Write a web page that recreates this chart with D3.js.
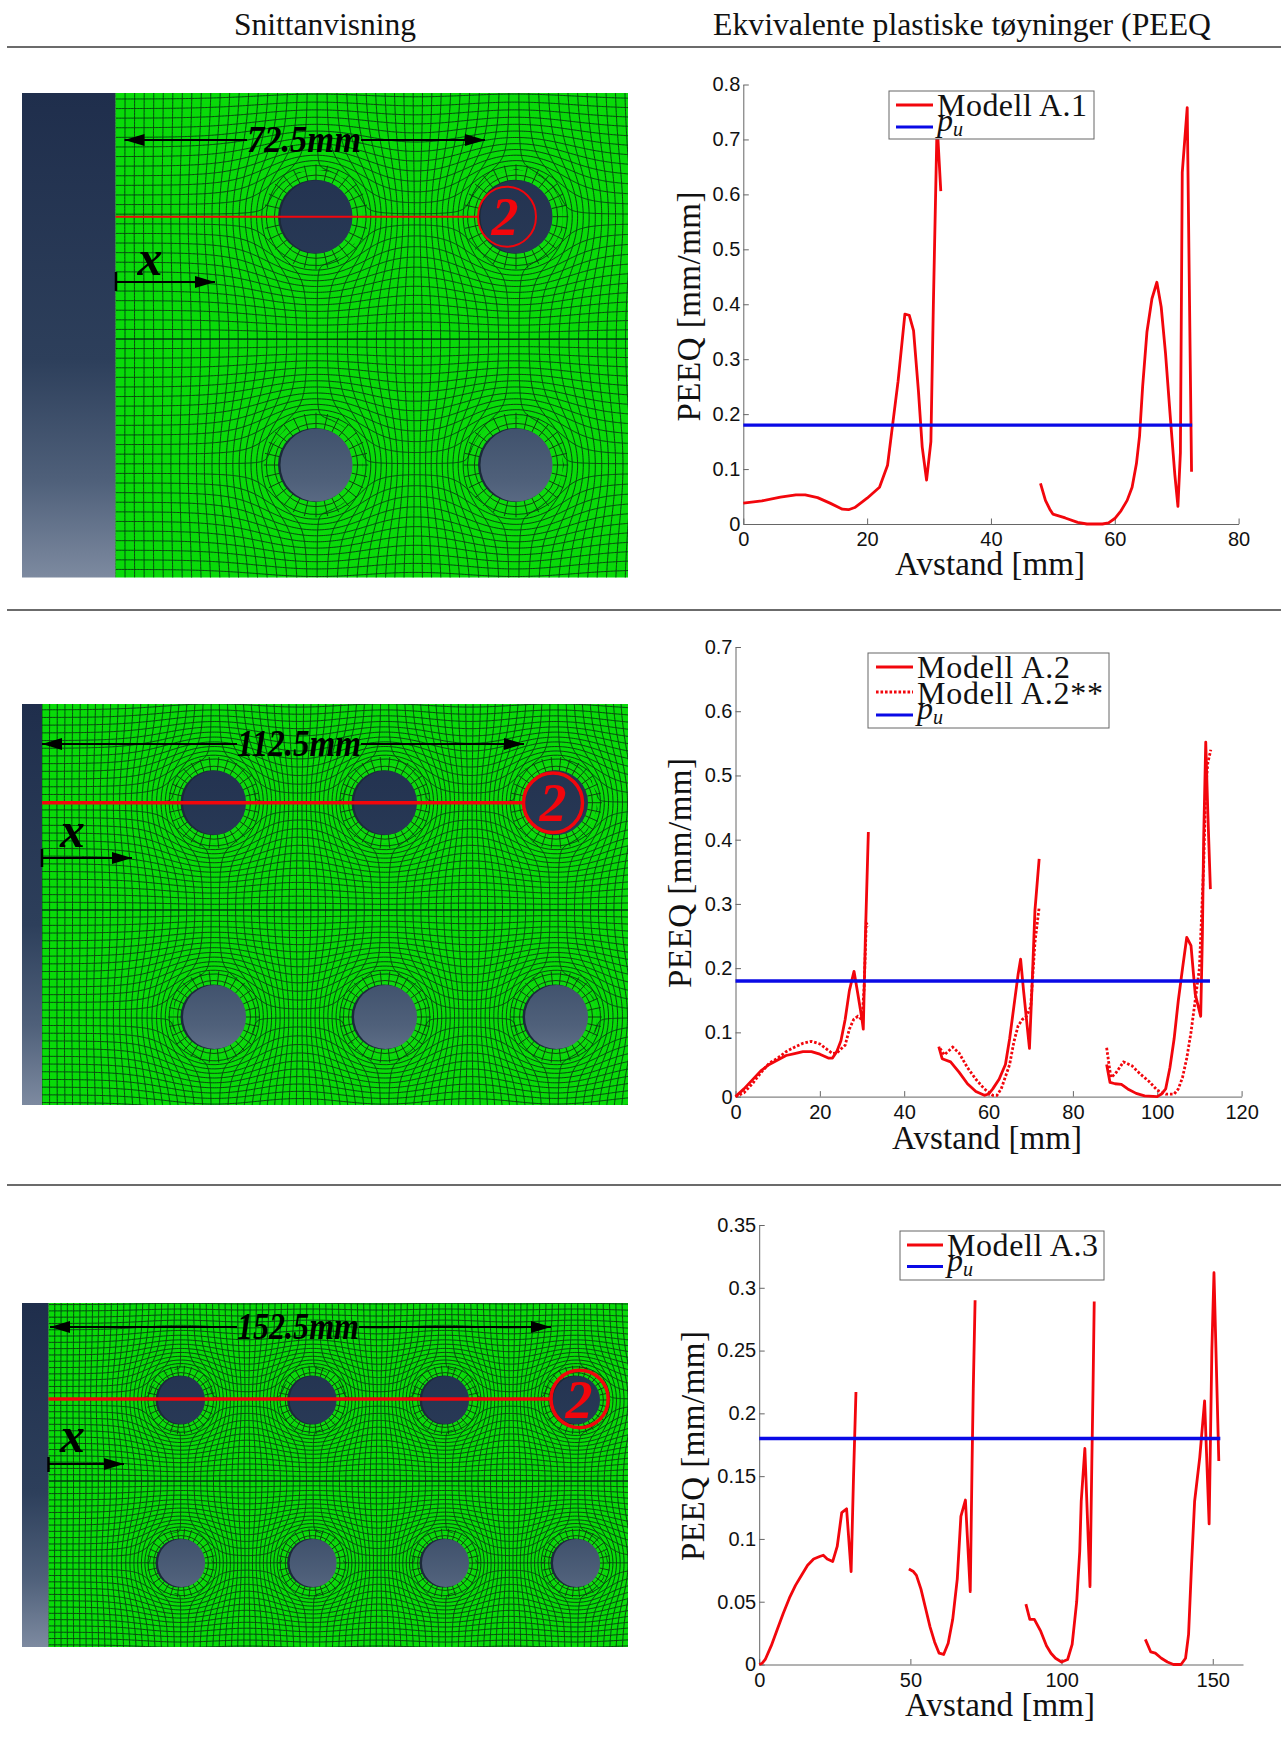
<!DOCTYPE html>
<html><head><meta charset="utf-8">
<script src="https://cdnjs.cloudflare.com/ajax/libs/d3/7.8.5/d3.min.js"></script>
<style>html,body{margin:0;padding:0;background:#fff}svg{display:block}</style>
</head><body><div id="c"></div>
<script>
// ---------- data ----------
const columnTitles = ["Snittanvisning", "Ekvivalente plastiske tøyninger (PEEQ"];
const pu = 0.18;

const a1Seg1 = [[0,.038],[3,.042],[6,.049],[8.5,.053],[10,.053],[12,.048],[14,.038],[16,.027],[17,.026],[18,.03],[20,.047],[22,.067],[23.3,.107],[24,.17],[25,.26],[26.1,.382],[26.8,.38],[27.5,.352],[28.3,.24],[28.9,.14],[29.6,.08],[30.3,.15],[30.7,.4],[31.3,.73],[31.9,.606]];
const a1Seg2 = [[48,.074],[48.8,.043],[49.5,.027],[50,.018],[52,.011],[54,.003],[55.5,0],[58,0],[59,.002],[60,.01],[61,.024],[62,.043],[62.8,.067],[63.5,.11],[64,.16],[64.5,.25],[65.2,.35],[66,.41],[66.8,.44],[67.5,.395],[68.2,.31],[69,.19],[69.7,.09],[70.2,.032],[70.6,.13],[70.9,.64],[71.7,.758],[72.4,.095]];

const a2Seg1 = [[0,0],[2,.012],[4,.026],[6,.04],[8,.05],[10,.057],[12,.064],[14,.067],[16,.07],[18,.07],[20,.066],[22,.06],[23,.06],[24,.07],[25,.087],[26,.12],[27,.165],[28.1,.195],[29,.16],[30,.12],[30.3,.105],[30.8,.25],[31.5,.412]];
const a2Seg2 = [[48.2,.078],[49,.059],[51,.054],[53,.038],[55,.02],[57,.008],[59,.002],[60,.004],[61,.012],[62.5,.027],[64,.05],[65,.09],[66,.14],[67,.19],[67.6,.214],[68.3,.165],[69,.12],[69.7,.075],[70.3,.17],[71,.29],[72,.37]];
const a2Seg3 = [[88,.05],[88.8,.022],[90,.02],[91.5,.019],[93,.012],[95,.005],[97,.001],[100,0],[101,.004],[102,.012],[103,.045],[104,.09],[105,.15],[106,.2],[107,.248],[108,.235],[109,.16],[110.3,.125],[110.7,.25],[111,.4],[111.5,.552],[112,.44],[112.6,.323]];
const a2sSeg1 = [[0,0],[2,.006],[4,.02],[6,.037],[8,.052],[10,.06],[12,.07],[14,.077],[16,.083],[18,.086],[20,.082],[22,.072],[23,.067],[24,.068],[26,.08],[27,.105],[28,.12],[29,.125],[30,.12],[30.5,.17],[31,.27],[31.5,.265]];
const a2sSeg2 = [[48.5,.075],[49.5,.065],[51.5,.077],[53,.068],[55,.045],[57,.027],[59,.012],[60,.007],[61,.002],[62,.002],[63,.012],[65,.05],[66,.085],[67,.11],[68,.12],[69,.125],[70,.14],[71,.24],[72,.295]];
const a2sSeg3 = [[88,.076],[89,.03],[90,.035],[92,.054],[94,.048],[96,.035],[98,.024],[100,.01],[102,.004],[104,.004],[105,.012],[106,.03],[107,.06],[108,.1],[109,.15],[110,.2],[111,.36],[111.5,.48],[112,.52],[112.7,.54]];

const a3Seg1 = [[0,0],[1,.001],[2,.004],[4,.015],[6,.028],[8,.041],[10,.053],[12,.063],[14,.071],[16,.079],[18,.084],[20,.086],[21.2,.087],[22.5,.084],[24.3,.082],[25.8,.094],[27.3,.121],[28.9,.124],[30.4,.074],[31.2,.15],[32,.217]];
const a3Seg2 = [[49.5,.076],[51,.074],[52,.071],[53.5,.06],[55,.045],[56.5,.03],[58,.018],[59.5,.009],[61,.008],[62.5,.017],[64,.036],[65.5,.068],[66.7,.118],[68.2,.131],[69.8,.058],[70.4,.16],[70.8,.22],[71.4,.29]];
const a3Seg3 = [[88.2,.048],[89.5,.036],[91,.036],[93,.027],[95,.015],[96.5,.009],[98,.005],[100,.002],[102,.004],[103.5,.016],[105,.05],[106,.09],[106.5,.13],[107.7,.172],[109.4,.062],[110,.16],[110.4,.22],[110.8,.289]];
const a3Seg4 = [[127.7,.02],[129.5,.01],[131,.009],[133,.005],[135,.002],[137,0],[139.5,0],[141,.005],[142,.024],[143,.08],[144,.13],[145.7,.165],[147.3,.21],[148.8,.112],[149.7,.25],[150.4,.312],[152,.162]];

const ticksY1 = [0,.1,.2,.3,.4,.5,.6,.7,.8];
const ticksX1 = [0,20,40,60,80];
const ticksY2 = [0,.1,.2,.3,.4,.5,.6,.7];
const ticksX2 = [0,20,40,60,80,100,120];
const ticksY3 = [0,.05,.1,.15,.2,.25,.3,.35];
const ticksX3 = [0,50,100,150];

const legend1 = ["Modell A.1"];
const legend2 = ["Modell A.2","Modell A.2**"];
const legend3 = ["Modell A.3"];

const ruleYs = [47, 610, 1185];

const charts = [
 {x0:743.3,x1:1238.6,y0:524,y1:84.5,xMax:80,yMax:.8,tx:ticksX1,ty:ticksY1,solid:[a1Seg1,a1Seg2],dotted:[],end:72.5,
  xl:[990,575],yl:[700,306.5],
  box:[889,91,205,48],samp:[896,933],rows:[[105,116,150,legend1[0],"solid"],[127,131,0,"pu","blue"]]},
 {x0:735.5,x1:1241.6,y0:1096.6,y1:647,xMax:120,yMax:.7,tx:ticksX2,ty:ticksY2,solid:[a2Seg1,a2Seg2,a2Seg3],dotted:[a2sSeg1,a2sSeg2,a2sSeg3],end:112.5,
  xl:[987,1149],yl:[691,873],
  box:[868,653,241,75],samp:[876,913],rows:[[667,678,153,legend2[0],"solid"],[692,703.5,186,legend2[1],"dotted"],[715,719,0,"pu","blue"]]},
 {x0:759.2,x1:1243,y0:1664.5,y1:1225,xMax:160,yMax:.35,tx:ticksX3,ty:ticksY3,solid:[a3Seg1,a3Seg2,a3Seg3,a3Seg4],dotted:[],end:152.5,
  xl:[1000,1716],yl:[704,1446],
  box:[900,1231,204,49],samp:[907,943],rows:[[1245,1256,151,legend3[0],"solid"],[1266.6,1271,0,"pu","blue"]]}
];

const panels = [
 {left:22,strip:115.5,right:628,top:93,bottom:577.5,cell:9.6,sym:339,spokes:28,
  holesX:[316,516],holesY:[216.7,465],r:36.5,
  red:[216.7,478,1.5],ring:[507,216.7,29,30,1.5],two:[505,235],
  arrow:[140,124.5,485,247,361],label:"72.5mm",labelX:304,labelY:152,labelW:114,
  xMark:[150,275,282,116,215,272,291]},
 {left:22,strip:42,right:628,top:704,bottom:1105,cell:7.7,sym:910,spokes:30,
  holesX:[214,385,556],holesY:[802.7,1017],r:32,
  red:[802.7,524.5,3],ring:[553,802.7,29.5,29.7,3],two:[553,821],
  arrow:[744,42,524,237,361],label:"112.5mm",labelX:299,labelY:756,labelW:124,
  xMark:[72.6,847,858,42,132,849,867]},
 {left:22,strip:48.5,right:628,top:1303,bottom:1647,cell:6.3,sym:1481,spokes:30,
  holesX:[181,312.6,445,576],holesY:[1400,1563],r:24,
  red:[1399,551,3],ring:[579.6,1399,28.6,28.7,3],two:[579,1418],
  arrow:[1327,50,551,237,359],label:"152.5mm",labelX:298,labelY:1339,labelW:122,
  xMark:[72.6,1452,1464,48.5,124,1457,1472]}
];

// ---------- drawing ----------
const RED="#f2060c", BLUE="#0a0ae6", GREEN="#09da09", serif="'Liberation Serif','Times New Roman',serif", sans="'Liberation Sans',Arial,sans-serif";
const svg=d3.select("#c").append("svg").attr("width",1284).attr("height",1744).attr("viewBox","0 0 1284 1744");
const defs=svg.append("defs");
defs.append("filter").attr("id","soft").append("feGaussianBlur").attr("stdDeviation",.35);
defs.append("marker").attr("id","ah").attr("viewBox","0 0 10 6").attr("refX",10).attr("refY",3)
  .attr("markerWidth",30).attr("markerHeight",12).attr("markerUnits","userSpaceOnUse").attr("orient","auto-start-reverse")
  .append("path").attr("d","M0,0L10,3L0,6Z").attr("fill","#000");

svg.append("g").selectAll("line").data(ruleYs).join("line")
  .attr("x1",7).attr("x2",1281).attr("y1",d=>d).attr("y2",d=>d).attr("stroke","#3a3a3a").attr("stroke-width",1.3);
svg.append("g").selectAll("text").data(columnTitles).join("text")
  .attr("x",(d,i)=>i?962:325).attr("y",35).attr("text-anchor","middle")
  .attr("font-family",serif).attr("font-size",32).attr("fill","#111")
  .attr("textLength",(d,i)=>i?498:182).attr("lengthAdjust","spacingAndGlyphs").text(d=>d);

panels.forEach((p,pi)=>{
  const g=svg.append("g");
  const gid="grad"+pi, cid="clip"+pi;
  const grad=defs.append("linearGradient").attr("id",gid).attr("gradientUnits","userSpaceOnUse")
    .attr("x1",0).attr("x2",0).attr("y1",p.top).attr("y2",p.bottom);
  [[0,"#1f2e4c"],[.55,"#2d3f5b"],[.8,"#4f607a"],[1,"#7d8aa0"]].forEach(s=>grad.append("stop").attr("offset",s[0]).attr("stop-color",s[1]));
  defs.append("clipPath").attr("id",cid).append("rect").attr("x",p.strip).attr("y",p.top).attr("width",p.right-p.strip).attr("height",p.bottom-p.top);

  g.append("rect").attr("x",p.left).attr("y",p.top).attr("width",p.strip-p.left).attr("height",p.bottom-p.top).attr("fill",`url(#${gid})`);
  g.append("rect").attr("x",p.strip).attr("y",p.top).attr("width",p.right-p.strip).attr("height",p.bottom-p.top).attr("fill",GREEN);

  const holes=[]; p.holesY.forEach(y=>p.holesX.forEach(x=>holes.push([x,y])));
  const R=p.r*1.28;
  const warp=(x,y)=>{
    let dx=0,dy=0;
    holes.forEach(h=>{
      const vx=x-h[0],vy=y-h[1],d=Math.hypot(vx,vy)||.001;
      const w=Math.exp(-Math.pow(d/(2.6*p.r),2));
      const nd=Math.pow(Math.pow(d,1.4)+Math.pow(R,1.4)*w,1/1.4);
      dx+=vx/d*(nd-d); dy+=vy/d*(nd-d);
    });
    return [x+dx,y+dy];
  };
  const lineGen=d3.line();
  const lines=[];
  const step=1.5;
  for(const gx of d3.range(p.strip,p.right+p.cell,p.cell)) lines.push(d3.range(p.top,p.bottom+step,step).map(y=>warp(gx,y)));
  const rows=[...d3.range(p.sym,p.top-p.cell,-p.cell),...d3.range(p.sym+p.cell,p.bottom+p.cell,p.cell)];
  for(const gy of rows) lines.push(d3.range(p.strip,p.right+step,step).map(x=>warp(x,gy)));
  const mesh=g.append("g").attr("clip-path",`url(#${cid})`).append("g").attr("filter","url(#soft)");
  const MESH="#0a4012";
  mesh.selectAll("path").data(lines).join("path").attr("d",lineGen).attr("fill","none")
    .attr("stroke",MESH).attr("stroke-width",.95);
  mesh.append("line").attr("x1",p.strip).attr("x2",p.right).attr("y1",p.sym).attr("y2",p.sym).attr("stroke","#06300c").attr("stroke-width",1.2);

  // structured cells directly round every hole
  mesh.selectAll("circle.patch").data(holes).join("circle").attr("class","patch")
    .attr("cx",d=>d[0]).attr("cy",d=>d[1]).attr("r",R).attr("fill",GREEN);
  holes.forEach(h=>{
    mesh.selectAll(null).data([1.14]).join("circle").attr("cx",h[0]).attr("cy",h[1]).attr("r",f=>p.r*f)
      .attr("fill","none").attr("stroke",MESH).attr("stroke-width",.95);
    mesh.selectAll(null).data(d3.range(p.spokes)).join("line")
      .attr("x1",k=>h[0]+p.r*Math.cos(2*Math.PI*k/p.spokes)).attr("y1",k=>h[1]+p.r*Math.sin(2*Math.PI*k/p.spokes))
      .attr("x2",k=>h[0]+R*1.12*Math.cos(2*Math.PI*k/p.spokes)).attr("y2",k=>h[1]+R*1.12*Math.sin(2*Math.PI*k/p.spokes))
      .attr("stroke",MESH).attr("stroke-width",.95);
  });

  g.selectAll("ellipse.s").data(holes).join("ellipse").attr("class","s")
    .attr("cx",d=>d[0]-1).attr("cy",d=>d[1]).attr("rx",p.r+.5).attr("ry",p.r+.5).attr("fill","#1c2a3a");
  g.selectAll("ellipse.h").data(holes).join("ellipse").attr("class","h")
    .attr("cx",d=>d[0]+.5).attr("cy",d=>d[1]).attr("rx",p.r-.5).attr("ry",p.r).attr("fill",`url(#${gid})`);

  // section line and marker
  g.append("line").attr("x1",p.strip).attr("x2",p.red[1]).attr("y1",p.red[0]).attr("y2",p.red[0]).attr("stroke",RED).attr("stroke-width",p.red[2]+.6);
  g.append("ellipse").attr("cx",p.ring[0]).attr("cy",p.ring[1]).attr("rx",p.ring[2]).attr("ry",p.ring[3]).attr("fill","none").attr("stroke",RED).attr("stroke-width",p.ring[4]+.5);
  g.append("text").attr("x",p.two[0]).attr("y",p.two[1]).attr("text-anchor","middle").attr("font-family",serif)
    .attr("font-weight","bold").attr("font-style","italic").attr("font-size",54).attr("fill",RED).text("2");

  // dimension arrow
  const a=p.arrow;
  g.append("line").attr("x1",a[3]).attr("x2",a[1]).attr("y1",a[0]).attr("y2",a[0]).attr("stroke","#000").attr("stroke-width",2).attr("marker-end","url(#ah)");
  g.append("line").attr("x1",a[4]).attr("x2",a[2]).attr("y1",a[0]).attr("y2",a[0]).attr("stroke","#000").attr("stroke-width",2).attr("marker-end","url(#ah)");
  g.append("text").attr("x",p.labelX).attr("y",p.labelY).attr("text-anchor","middle").attr("font-family",serif)
    .attr("font-weight","bold").attr("font-style","italic").attr("font-size",37).attr("fill","#000")
    .attr("textLength",p.labelW).attr("lengthAdjust","spacingAndGlyphs").text(p.label);

  const m=p.xMark;
  g.append("text").attr("x",m[0]).attr("y",m[1]).attr("text-anchor","middle").attr("font-family",serif)
    .attr("font-weight","bold").attr("font-style","italic").attr("font-size",50).attr("fill","#000").text("x");
  g.append("line").attr("x1",m[3]).attr("x2",m[4]).attr("y1",m[2]).attr("y2",m[2]).attr("stroke","#000").attr("stroke-width",2).attr("marker-end","url(#ah)");
  g.append("line").attr("x1",m[3]).attr("x2",m[3]).attr("y1",m[5]).attr("y2",m[6]).attr("stroke","#000").attr("stroke-width",2.5);
});

charts.forEach(c=>{
  const g=svg.append("g");
  const x=d3.scaleLinear().domain([0,c.xMax]).range([c.x0,c.x1]);
  const y=d3.scaleLinear().domain([0,c.yMax]).range([c.y0,c.y1]);
  const line=d3.line().x(d=>x(d[0])).y(d=>y(d[1]));

  const style=(s)=>s.attr("font-family",sans).attr("font-size",20).attr("fill","#111");
  const ax=g.append("g").attr("transform",`translate(0,${c.y0})`)
    .call(d3.axisBottom(x).tickValues(c.tx).tickFormat(d3.format("d")).tickSizeInner(-5.5).tickSizeOuter(0).tickPadding(8));
  const ay=g.append("g").attr("transform",`translate(${c.x0},0)`)
    .call(d3.axisLeft(y).tickValues(c.ty).tickFormat(d=>d===0?"0":String(+d.toFixed(2))).tickSizeInner(-5.5).tickSizeOuter(0).tickPadding(3));
  [ax,ay].forEach(a=>{
    a.selectAll("path,line").attr("stroke","#666").attr("stroke-width",1);
    style(a.selectAll("text"));
  });

  g.append("g").selectAll("path").data(c.dotted).join("path").attr("d",line).attr("fill","none")
    .attr("stroke",RED).attr("stroke-width",2.8).attr("stroke-dasharray","2.6 1.9");
  g.append("g").selectAll("path").data(c.solid).join("path").attr("d",line).attr("fill","none")
    .attr("stroke",RED).attr("stroke-width",2.8).attr("stroke-linejoin","round");
  g.append("line").attr("x1",x(0)).attr("x2",x(c.end)).attr("y1",y(pu)).attr("y2",y(pu)).attr("stroke",BLUE).attr("stroke-width",3.4);

  const lab=(t,px,py,len,rot)=>g.append("text").attr("text-anchor","middle")
    .attr("transform",`translate(${px},${py})${rot?" rotate(-90)":""}`).attr("font-family",serif).attr("font-size",33).attr("fill","#111")
    .attr("textLength",len).attr("lengthAdjust","spacing").text(t);
  lab("Avstand [mm]",c.xl[0],c.xl[1],190,false);
  lab("PEEQ [mm/mm]",c.yl[0],c.yl[1],230,true);

  const b=c.box;
  g.append("rect").attr("x",b[0]).attr("y",b[1]).attr("width",b[2]).attr("height",b[3]).attr("fill","#fff").attr("stroke","#666").attr("stroke-width",1);
  c.rows.forEach(r=>{
    const isBlue=r[4]==="blue";
    g.append("line").attr("x1",c.samp[0]).attr("x2",c.samp[1]).attr("y1",r[0]).attr("y2",r[0])
      .attr("stroke",isBlue?BLUE:RED).attr("stroke-width",3)
      .attr("stroke-dasharray",r[4]==="dotted"?"2.6 1.9":null);
    const t=g.append("text").attr("x",c.samp[1]+4).attr("y",r[1]).attr("font-family",serif).attr("font-size",32).attr("fill","#111");
    if(isBlue){
      t.append("tspan").attr("font-style","italic").text("p");
      t.append("tspan").attr("font-style","italic").attr("font-size",20).attr("dy",5).text("u");
    } else {
      t.attr("textLength",r[2]).attr("lengthAdjust","spacing").text(r[3]);
    }
  });
});
</script></body></html>
